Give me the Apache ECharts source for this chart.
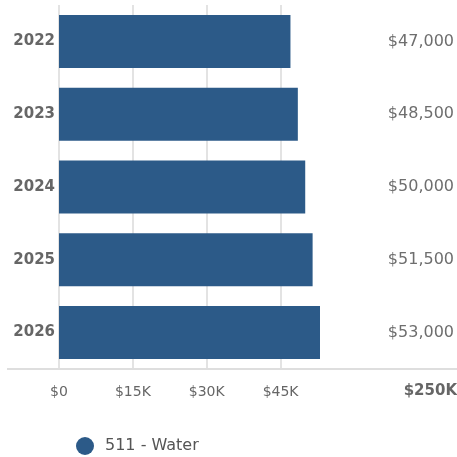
<!DOCTYPE html>
<html>
<head>
<meta charset="utf-8">
<script src="https://cdn.jsdelivr.net/npm/echarts@6/dist/echarts.min.js"></script>
<style>
  html, body { margin: 0; padding: 0; background: #fff; }
  #chart { width: 457px; height: 457px; }
</style>
</head>
<body>
<div id="chart"></div>
<script>
// Budget by year for account 511 - Water
const years = ['2022', '2023', '2024', '2025', '2026'];
const amounts = [47000, 48500, 50000, 51500, 53000];
const seriesName = '511 - Water';
const tickStep = 15000;

const FONT = 'DejaVu Sans';
const barColor = '#2C5A88';

const money = v => '$' + v.toLocaleString('en-US');
const moneyK = v => v === 0 ? '$0' : '$' + Math.round(v / 1000) + 'K';
const total = amounts.reduce((a, b) => a + b, 0);

const chart = echarts.init(document.getElementById('chart'));
chart.setOption({
  animation: false,
  textStyle: { fontFamily: FONT },
  grid: { left: 59, right: 132, top: 5, bottom: 88, containLabel: false },
  legend: {
    data: [{ name: seriesName, icon: 'circle' }],
    left: 71, top: 432,
    itemWidth: 18, itemHeight: 18, itemGap: 10,
    textStyle: { fontFamily: FONT, fontSize: 16, color: '#555', padding: [0, 0, 0, 6] }
  },
  xAxis: {
    type: 'value',
    min: 0,
    max: Math.max(...amounts),
    interval: tickStep,
    axisLine: { show: false },
    axisTick: { show: false },
    axisLabel: {
      showMaxLabel: false,
      margin: 16,
      fontSize: 14,
      color: '#666',
      formatter: moneyK
    },
    splitLine: { show: true, showMaxLine: false, lineStyle: { color: '#e3e3e3', width: 2 } }
  },
  yAxis: [
    {
      type: 'category',
      data: years,
      inverse: true,
      axisLine: { show: false },
      axisTick: { show: false },
      axisLabel: { margin: 4, fontSize: 15, fontWeight: 'bold', color: '#666' }
    },
    {
      type: 'category',
      data: amounts.map(money),
      inverse: true,
      position: 'right',
      axisLine: { show: false },
      axisTick: { show: false },
      axisLabel: { margin: 134, align: 'right', fontSize: 16, color: '#6e6e6e' }
    }
  ],
  series: [{
    name: seriesName,
    type: 'bar',
    data: amounts,
    barWidth: 53,
    itemStyle: { color: barColor }
  }],
  graphic: [
    {
      type: 'line',
      shape: { x1: 7, y1: 369, x2: 457, y2: 369 },
      style: { stroke: '#dedede', lineWidth: 2 },
      z: 1
    },
    {
      type: 'text',
      right: 0, top: 384,
      style: {
        text: moneyK(total),
        font: 'bold 15px "' + FONT + '"',
        fill: '#666'
      }
    }
  ]
});
</script>
</body>
</html>
